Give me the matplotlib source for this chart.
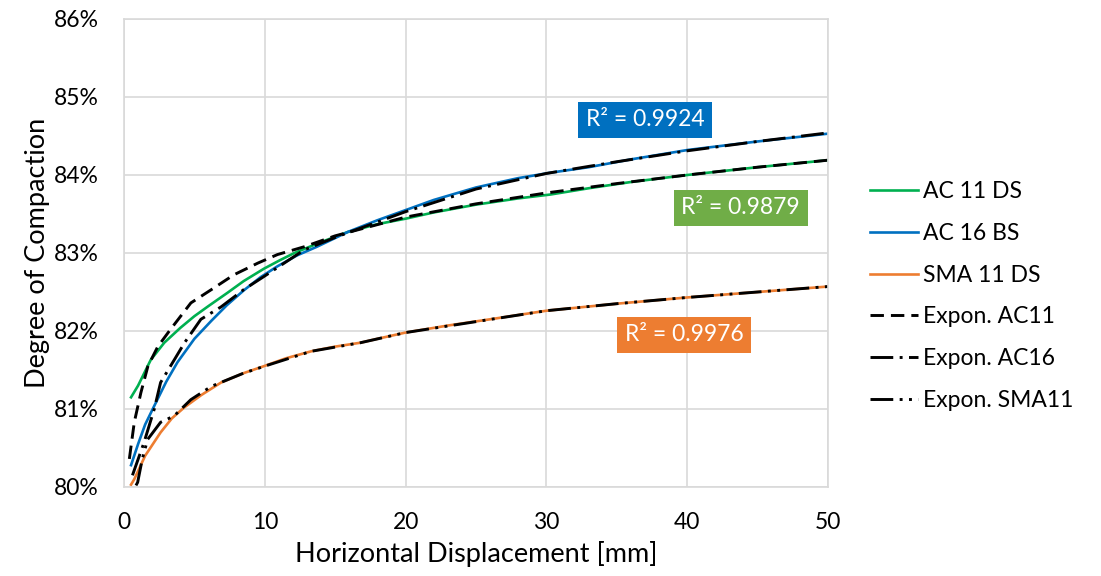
import matplotlib
matplotlib.use("Agg")
import matplotlib.pyplot as plt
from matplotlib.ticker import FuncFormatter

plt.rcParams['font.family'] = ['Lato', 'DejaVu Sans']

x_ac11 = [0.5, 1, 1.9, 2.86, 4, 5, 6, 7.35, 8.5, 9.95, 11.1, 12.1, 14, 15.9, 18, 20, 22, 25, 28, 30.3, 33, 36, 40, 45, 50]
y_ac11 = [81.15, 81.3, 81.63, 81.85, 82.04, 82.19, 82.32, 82.49, 82.64, 82.8, 82.91, 83.0, 83.14, 83.27, 83.37, 83.44, 83.52, 83.62, 83.7, 83.75, 83.83, 83.91, 84.0, 84.1, 84.19]

x_ac16 = [0.5, 1, 1.5, 2.15, 3, 3.8, 5, 6.2, 7.3, 8.5, 9.7, 10.9, 12.3, 13.7, 15.9, 18, 20, 22, 25, 28, 30.3, 33, 36, 40, 45, 50]
y_ac16 = [80.28, 80.55, 80.8, 81.04, 81.35, 81.6, 81.9, 82.13, 82.33, 82.52, 82.69, 82.83, 82.97, 83.08, 83.27, 83.42, 83.55, 83.68, 83.84, 83.96, 84.03, 84.1, 84.2, 84.32, 84.43, 84.53]

x_sma = [0.5, 0.73, 1.5, 2.6, 3.4, 4.28, 5.5, 6.9, 8.5, 9.95, 11.5, 13.3, 15, 16.8, 18, 20, 23, 26, 30, 35, 40, 45, 50]
y_sma = [80.03, 80.1, 80.4, 80.7, 80.88, 81.02, 81.18, 81.34, 81.46, 81.55, 81.65, 81.74, 81.8, 81.85, 81.9, 81.98, 82.07, 82.15, 82.26, 82.35, 82.43, 82.5, 82.57]

# trendlines
x_fit11 = [0.38, 0.73, 1.2, 1.7, 2.4, 3.3, 4.75, 6.2, 7.8, 9.5, 10.9, 12.8, 15, 20, 25, 30, 35, 40, 45, 50]
y_fit11 = [80.36, 80.83, 81.21, 81.55, 81.8, 82.02, 82.36, 82.53, 82.72, 82.87, 82.98, 83.08, 83.22, 83.46, 83.63, 83.77, 83.89, 84.0, 84.1, 84.19]

x_fit16 = [0.6, 1.42, 2.15, 2.6, 3.57, 4.3, 5.46, 6.9, 8.5, 9.95, 12.8, 15, 20, 25, 30, 35, 40, 45, 50]
y_fit16 = [80.15, 80.57, 81.0, 81.34, 81.63, 81.85, 82.15, 82.31, 82.53, 82.7, 83.04, 83.2, 83.53, 83.82, 84.02, 84.17, 84.31, 84.43, 84.54]

x_fitsma = [0.85, 0.97, 1.3, 1.68, 2.6, 3.55, 4.75, 6.2, 8.5, 10, 13.3, 16.8, 20, 25, 30, 35, 40, 45, 50]
y_fitsma = [80.02, 80.06, 80.36, 80.61, 80.83, 80.91, 81.12, 81.29, 81.46, 81.55, 81.74, 81.85, 81.98, 82.12, 82.26, 82.35, 82.43, 82.5, 82.57]

r2_labels = ["R² = 0.9924", "R² = 0.9879", "R² = 0.9976"]
r2_pos = [(37.0, 84.71), (43.8, 83.58), (39.8, 81.95)]
r2_colors = ["#0070C0", "#70AD47", "#ED7D31"]

fig = plt.figure(figsize=(11.01, 5.76), dpi=100)
ax = fig.add_axes([124 / 1101, 1 - 487 / 576, 704 / 1101, 468 / 576])

ax.plot(x_ac11, y_ac11, color="#00B050", lw=1.9, label="AC 11 DS")
ax.plot(x_ac16, y_ac16, color="#0070C0", lw=1.9, label="AC 16 BS")
ax.plot(x_sma, y_sma, color="#ED7D31", lw=1.9, label="SMA 11 DS")
ax.plot(x_fit11, y_fit11, color="black", lw=2.1, ls=(0, (4.6, 2.4)), label="Expon. AC11")
ax.plot(x_fit16, y_fit16, color="black", lw=2.1, ls=(0, (7.8, 2.2, 1.0, 2.2)), label="Expon. AC16")
ax.plot(x_fitsma, y_fitsma, color="black", lw=2.1, ls=(0, (7.8, 2.2, 1.0, 2.2, 1.0, 2.2)), label="Expon. SMA11")

for lab, (px, py), c in zip(r2_labels, r2_pos, r2_colors):
    ax.text(px, py, lab, color="white", fontsize=16.5, ha="center", va="center",
            bbox=dict(boxstyle="square,pad=0.33", fc=c, ec="none"))

ax.set_xlim(0, 50)
ax.set_ylim(80, 86)
ax.set_xticks(range(0, 51, 10))
ax.set_yticks(range(80, 87))
ax.yaxis.set_major_formatter(FuncFormatter(lambda v, p: f"{v:.0f}%"))
ax.grid(True, color="#D9D9D9", lw=1.2)
ax.set_axisbelow(True)
for s in ax.spines.values():
    s.set_color("#D9D9D9")
    s.set_linewidth(1.2)
ax.tick_params(length=0, labelsize=16.5, pad=18)

ax.set_xlabel("Horizontal Displacement [mm]", fontsize=19.5, labelpad=6)
ax.set_ylabel("Degree of Compaction", fontsize=19.5, labelpad=3)

fig.legend(loc="center left", bbox_to_anchor=(870 / 1101, 1 - 296 / 576), frameon=False,
           fontsize=16.5, handlelength=2.1, handletextpad=0.2, labelspacing=0.9,
           borderpad=0, borderaxespad=0)

fig.savefig("out.png", dpi=100)
